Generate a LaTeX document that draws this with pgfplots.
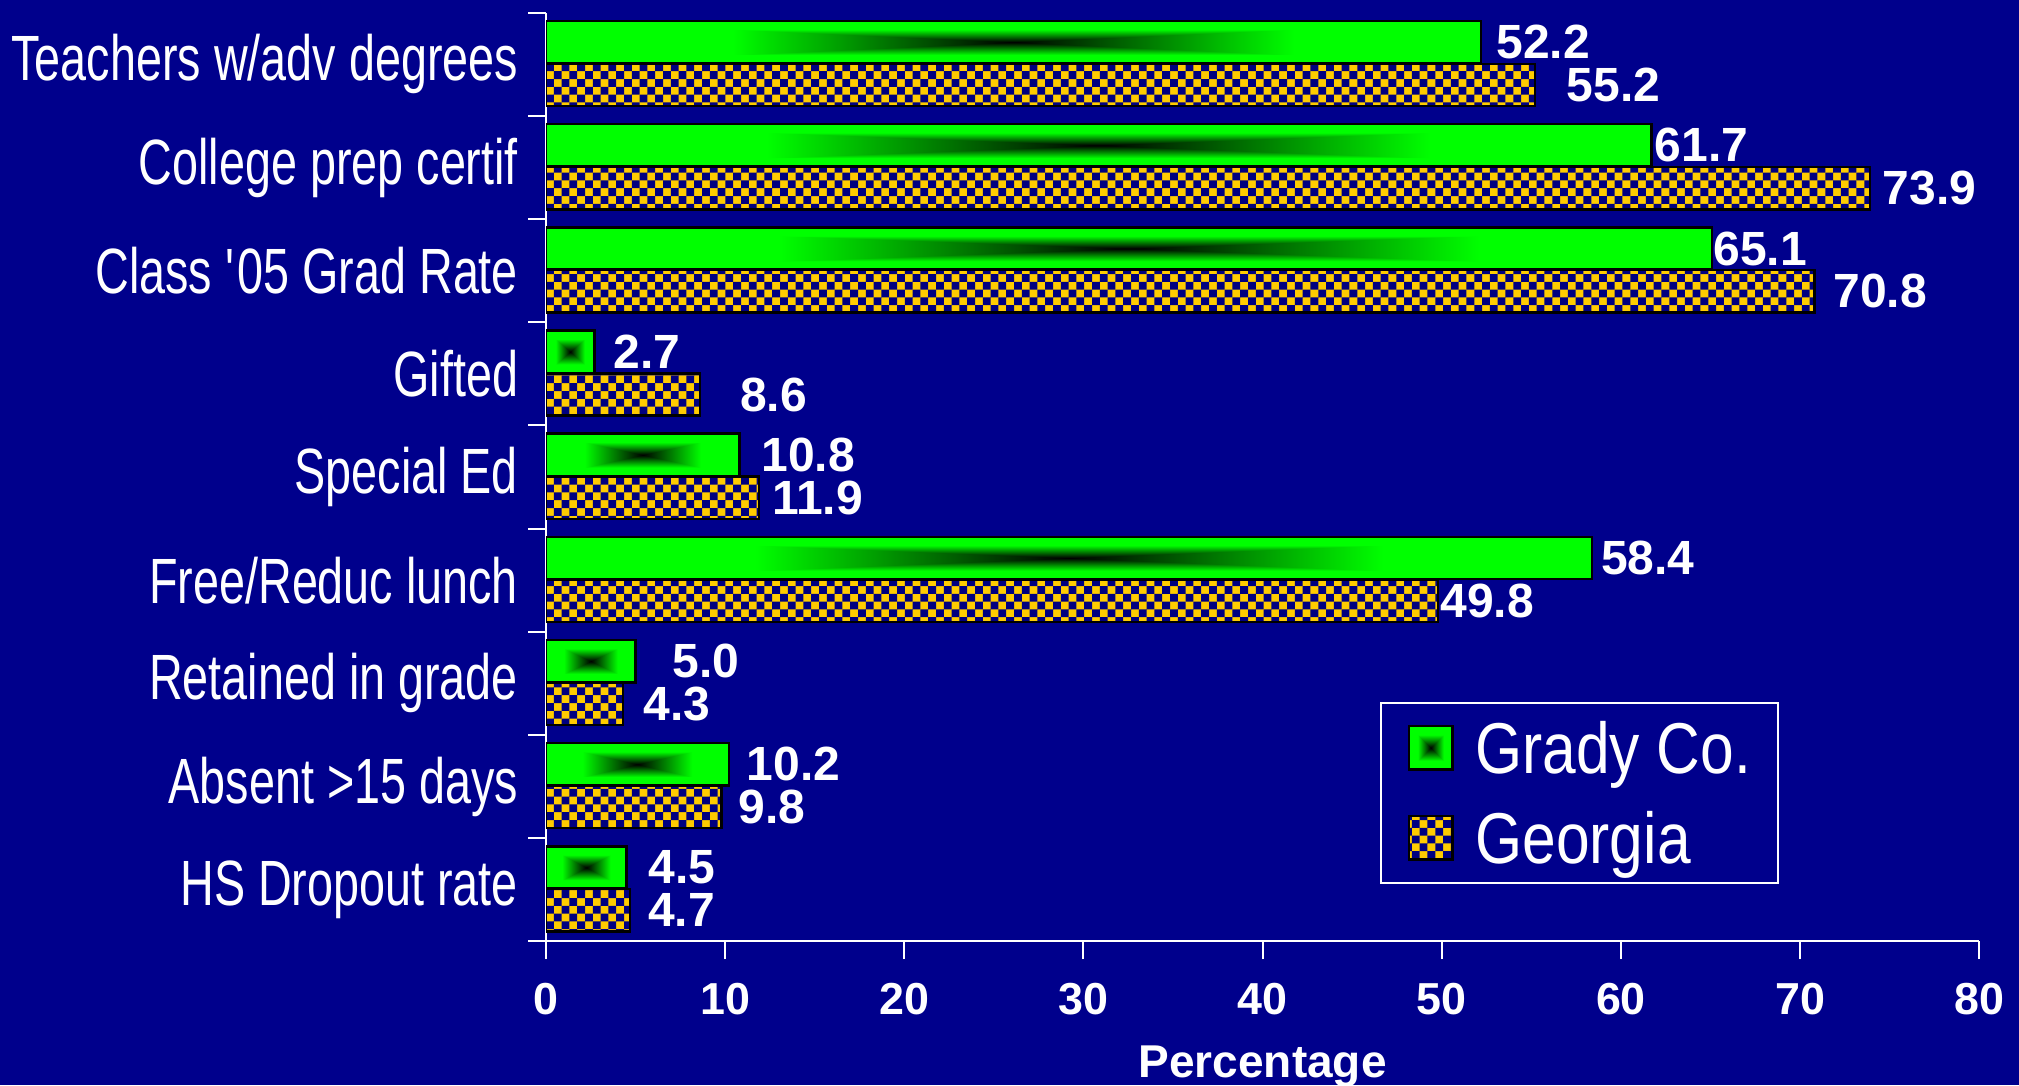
\documentclass[border=0pt]{standalone}
\usepackage{pgfplots}
\pgfplotsset{compat=1.18}
\usepackage{pgfplotstable}
\usepackage{fontspec}
\setmainfont{Liberation Sans}
\newfontfamily\catfont[FakeStretch=0.73]{Liberation Sans}
\newfontfamily\legfont[FakeStretch=0.84]{Liberation Sans}
\usetikzlibrary{patterns,backgrounds}
\definecolor{bgblue}{RGB}{0,0,140}
\definecolor{cbnavy}{RGB}{0,0,128}
\definecolor{cbyellow}{RGB}{255,204,0}
\pgfdeclarefunctionalshading{rectcenter}{\pgfpointorigin}{\pgfpoint{100bp}{100bp}}{}{
 50 sub abs 25 div exch 50 sub abs 25 div
 2 copy sub abs add add 2 div
 0.6 div
 dup 1 sub abs neg add 1 add 2 div
 0 exch 0
}
\pgfdeclarepatternformonly{smallchecker}{\pgfqpoint{-.1pt}{-.1pt}}{\pgfqpoint{4pt}{4pt}}{\pgfqpoint{3.9pt}{3.9pt}}{%
 \pgfpathrectangle{\pgfqpoint{0pt}{0pt}}{\pgfqpoint{1.95pt}{1.95pt}}%
 \pgfpathrectangle{\pgfqpoint{1.95pt}{1.95pt}}{\pgfqpoint{1.95pt}{1.95pt}}%
 \pgfusepath{fill}}
\pgfplotstableread{
c v off
8 55.2 7.7
7 73.9 2.9
6 70.8 4.5
5 8.6 9.7
4 11.9 2.9
3 49.8 0.3
2 4.3 4.8
1 9.8 3.9
0 4.7 4.2
}\georgia
\pgfplotsset{gradybar/.style={draw=black, line width=0.6pt, shading=rectcenter, bar shift=0.215}}
% one Grady bar: value, category, label offset (pt)
\newcommand\gbar[3]{\addplot[gradybar, forget plot, nodes near coords style={xshift=#3pt}] coordinates {(#1,#2)};}
\begin{document}
\begin{tikzpicture}
\begin{axis}[
 scale only axis, width=358.3pt, height=232.1pt,
 xmin=0, xmax=80, ymin=-0.5, ymax=8.5,
 axis x line*=bottom, axis y line*=left,
 axis line style={white, line width=0.5pt},
 xtick={0,10,...,80},
 tick align=outside, major tick length=4.5pt,
 tick style={white, line width=0.5pt},
 ytick={-0.5,0.5,...,8.5}, yticklabel={\relax},
 extra y ticks={0,...,8},
 extra y tick labels={HS Dropout rate, Absent >15 days, Retained in grade, Free/Reduc lunch, Special Ed, Gifted, Class \textquotesingle05 Grad Rate, College prep certif, Teachers w/adv degrees},
 extra y tick style={tick style={draw=none}},
 /pgf/number format/assume math mode=true,
 xticklabel style={font=\bfseries\fontsize{11.2}{11.2}\selectfont, white, inner sep=0pt, yshift=-5.7pt},
 yticklabel style={font=\catfont\fontsize{16}{16}\selectfont, white, inner sep=0pt, xshift=-2.3pt},
 xlabel={Percentage},
 xlabel style={font=\bfseries\fontsize{11.5}{11.5}\selectfont, white, at={(axis description cs:0.5,0)}, anchor=base, yshift=-34pt},
 xbar, bar width=0.41,
 legend image code/.code={\draw[#1] (0pt,-5.4pt) rectangle (10.8pt,5.4pt);},
 legend cell align=left,
 legend style={at={(rel axis cs:0.582,0.258)}, anchor=north west, draw=white, line width=0.5pt, fill=bgblue,
   font=\legfont\fontsize{18}{18}\selectfont, text=white, inner xsep=6.7pt, inner ysep=0pt, row sep=0pt,
   nodes={inner sep=0pt, text height=17.75pt, text depth=4.75pt},
   /tikz/every odd column/.append style={column sep=5.5pt}},
 nodes near coords={\pgfmathprintnumber[fixed,fixed zerofill,precision=1]{\pgfplotspointmeta}},
 nodes near coords style={anchor=west, inner sep=0pt, white, font=\bfseries\fontsize{12}{12}\selectfont},
]
\addplot[gradybar, nodes near coords style={xshift=3.5pt}] coordinates {(52.2,8)};
\addlegendentry{Grady Co.}
\gbar{61.7}{7}{0.6}
\gbar{65.1}{6}{0.0}
\gbar{2.7}{5}{4.5}
\gbar{10.8}{4}{5.2}
\gbar{58.4}{3}{1.9}
\gbar{5.0}{2}{9.0}
\gbar{10.2}{1}{4.2}
\gbar{4.5}{0}{5.2}
\addplot[draw=black, line width=0.6pt, preaction={fill=cbyellow}, pattern=smallchecker, pattern color=cbnavy, bar shift=-0.2,
  visualization depends on={\thisrow{off} \as \myoff}, nodes near coords style={xshift=\myoff pt}] table[x=v, y=c] {\georgia};
\addlegendentry{Georgia}
\coordinate (O) at (rel axis cs:0,0);
\coordinate (T) at (rel axis cs:1,1);
\end{axis}
\pgfresetboundingbox
\begin{scope}[on background layer]
\fill[bgblue] ([xshift=-136.5pt,yshift=-36pt]O) rectangle ([xshift=9.95pt,yshift=3.2pt]T);
\end{scope}
\end{tikzpicture}
\end{document}
